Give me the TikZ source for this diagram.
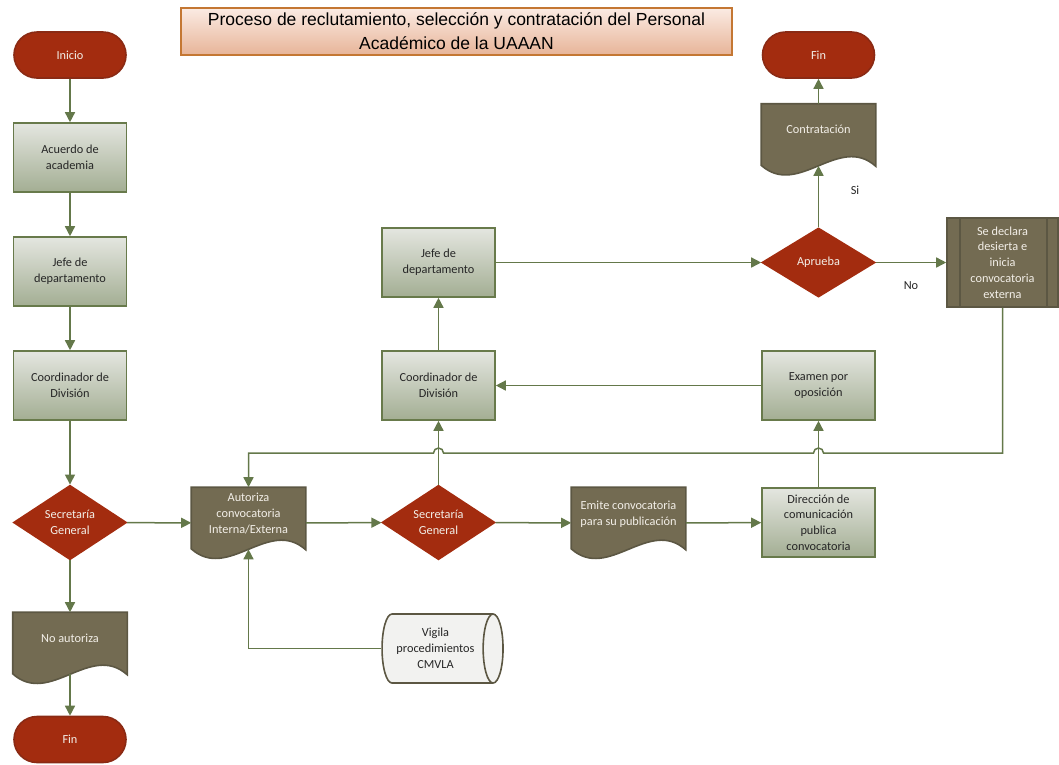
\documentclass[tikz,border=0pt]{standalone}
\usepackage{fontspec}
\setmainfont{Carlito}
\newfontfamily\titlefont{Liberation Sans}
\usetikzlibrary{shapes.geometric,arrows.meta,backgrounds}

\definecolor{brick}{HTML}{A32C0F}
\definecolor{brickline}{HTML}{8A2A14}
\definecolor{olive}{HTML}{736B52}
\definecolor{oliveline}{HTML}{5C5743}
\definecolor{proctop}{HTML}{E4E6E0}
\definecolor{procbot}{HTML}{A3AE93}
\definecolor{procline}{HTML}{687A4B}
\definecolor{linkcol}{HTML}{64784A}
\definecolor{titletop}{HTML}{FBEBE3}
\definecolor{titlebot}{HTML}{E7B498}
\definecolor{titleline}{HTML}{C47733}
\definecolor{storefill}{HTML}{F2F2F0}
\definecolor{lighttext}{HTML}{F3EFE8}

\tikzstyle{base}=[font=\fontsize{12.3}{15.8}\selectfont, align=center, line width=1.6pt, inner sep=2pt]
\tikzstyle{term}=[base, draw=brickline, fill=brick, text=lighttext, rounded corners=23pt, minimum width=112pt, minimum height=46pt]
\tikzstyle{proc}=[base, draw=procline, top color=proctop, bottom color=procbot, text=black!85, minimum width=113pt, minimum height=69pt]
\tikzstyle{decision}=[base, diamond, draw=brick, fill=brick, text=lighttext, inner sep=0pt, minimum width=113pt, minimum height=69pt]
\tikzstyle{doc}=[base, text=lighttext, text depth=20pt, minimum width=113pt, minimum height=70pt]
\tikzstyle{docshape}=[draw=oliveline, fill=olive, line width=1.6pt]
\tikzstyle{predef}=[base, draw=oliveline, fill=olive, text=lighttext, minimum width=111pt, minimum height=89pt]
\tikzstyle{store}=[base, cylinder, aspect=0.45, draw=oliveline, fill=storefill, text=black!85, minimum width=69pt, minimum height=121pt]
\tikzstyle{titlebox}=[draw=titleline, top color=titletop, bottom color=titlebot, line width=1.6pt, inner sep=0pt,
  font=\titlefont\fontsize{17.5}{24}\selectfont, align=center, minimum width=551pt, minimum height=47pt]
\tikzstyle{answer}=[font=\fontsize{12.3}{14}\selectfont, text=black!85]
\tikzstyle{link}=[draw=linkcol, line width=1.5pt, -{Triangle[length=10pt,width=10pt]}]

\newcommand{\docoutline}[1]{%
  \filldraw[docshape] (#1.north west) -- (#1.north east) -- ([yshift=9pt]#1.south east)
    .. controls +(-37pt,33pt) and +(37pt,-33pt) .. ([yshift=10pt]#1.south west) -- cycle;}

\begin{document}
\begin{tikzpicture}[x=1pt, y=-1pt]
\useasboundingbox (0,0) rectangle (1059,764);
\draw (456.5,31.5) node[titlebox](title){Proceso de reclutamiento, selección y contratación del Personal\\Académico de la UAAAN};
%
\draw (70,55) node[term](inicio){Inicio};
\draw (70,157.5) node[proc](acuerdo){Acuerdo de\\academia};
\draw (70,271.5) node[proc](jefel){Jefe de\\departamento};
\draw (70,385.5) node[proc](coordl){Coordinador de\\División};
\draw (70,522.5) node[decision](secl){Secretaría\\General};
\draw (70,648) node[doc](noaut){No autoriza};
\draw (70,739.5) node[term](finb){Fin};
%
\draw (248.5,523) node[doc](autoriza){Autoriza\\convocatoria\\Interna/Externa};
\draw (438.5,522.5) node[decision](secm){Secretaría\\General};
\draw (628.5,523) node[doc](emite){Emite convocatoria\\para su publicación};
\draw (818.5,522.5) node[proc](direc){Dirección de\\comunicación\\publica\\convocatoria};
\draw (435.5,648.5) node[store](vigila){Vigila\\procedimientos\\CMVLA};
%
\draw (818.5,385.5) node[proc](examen){Examen por\\oposición};
\draw (438.5,385.5) node[proc](coordm){Coordinador de\\División};
\draw (438.5,262.5) node[proc](jefem){Jefe de\\departamento};
\draw (818.5,262.5) node[decision](aprueba){Aprueba};
\draw (818.5,139.5) node[doc](contrat){Contratación};
\draw (818.5,55) node[term](finr){Fin};
\draw (1002.5,262.5) node[predef](sedecl){Se declara\\desierta e\\inicia\\convocatoria\\externa};
\draw (855,190) node[answer](si){Si};
\draw (911,286) node[answer](no){No};
%
\begin{pgfonlayer}{background}
\docoutline{noaut} \docoutline{autoriza} \docoutline{emite} \docoutline{contrat}
\end{pgfonlayer}
\draw[oliveline, line width=1.6pt] ([xshift=14pt]sedecl.north west) -- ([xshift=14pt]sedecl.south west);
\draw[oliveline, line width=1.6pt] ([xshift=-12pt]sedecl.north east) -- ([xshift=-12pt]sedecl.south east);
\coordinate (noautb) at ([yshift=9.5pt]noaut.south);
\coordinate (autorizab) at ([yshift=9.5pt]autoriza.south);
\coordinate (contratb) at ([yshift=9.5pt]contrat.south);
%
\draw[link] (inicio) -- (acuerdo);
\draw[link] (acuerdo) -- (jefel);
\draw[link] (jefel) -- (coordl);
\draw[link] (coordl) -- (secl);
\draw[link] (secl) -- (noaut);
\draw[link] (noautb) -- (finb);
\draw[link] (secl) -- (autoriza);
\draw[link] (autoriza) -- (secm);
\draw[link] (secm) -- (emite);
\draw[link] (emite) -- (direc);
\draw[link] (direc) -- (examen);
\draw[link] (examen) -- (coordm);
\draw[link] (secm) -- (coordm);
\draw[link] (coordm) -- (jefem);
\draw[link] (jefem) -- (aprueba);
\draw[link] (aprueba) -- (contratb);
\draw[link] (contrat) -- (finr);
\draw[link] (aprueba) -- (sedecl);
\draw[link] (vigila.west) -| (autorizab);
%
\coordinate (bus) at (0,453);
\coordinate (hopr) at (examen.south |- bus);
\coordinate (hopl) at (coordm.south |- bus);
\draw[link] (sedecl.south) |- ([xshift=5pt]hopr) arc[start angle=0, end angle=180, radius=5pt]
  -- ([xshift=5pt]hopl) arc[start angle=0, end angle=180, radius=5pt]
  -- (autoriza.north |- bus) -- (autoriza.north);
\end{tikzpicture}
\end{document}
